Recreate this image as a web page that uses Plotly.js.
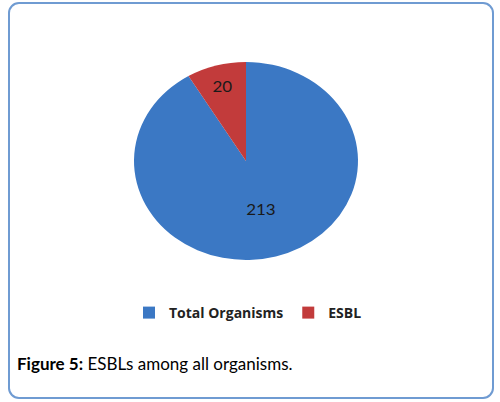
<!DOCTYPE html>
<html>
<head>
<meta charset="utf-8">
<script src="https://cdn.plot.ly/plotly-3.0.1.min.js"></script>
<style>
  html, body { margin: 0; padding: 0; background: #ffffff; }
  #wrap { position: relative; width: 500px; height: 402px; overflow: hidden; }
  #frame { position: absolute; left: 8px; top: 2px; width: 482px; height: 393px;
           border: 2px solid #6f9bd2; border-radius: 11px; box-sizing: content-box; }
  #chart { position: absolute; left: 0; top: 0; width: 500px; height: 402px; }
</style>
</head>
<body>
<div id="wrap">
  <div id="frame"></div>
  <div id="chart"></div>
</div>
<script>
const categories = ["Total Organisms", "ESBL"];
const counts = [213, 20];
const sliceColors = ["#3b78c4", "#c23b3b"];
const captionBold = "Figure 5:";
const captionText = " ESBLs among all organisms.";

const W = 500, H = 402;
// pie centre and radii in pixels (the reference pie is slightly elliptical)
const cx = 246, cy = 161, ry = 99, rx = 112;

const data = [{
  type: "pie",
  labels: categories,
  values: counts,
  text: counts.map(String),
  textinfo: "text",
  textposition: "inside",
  insidetextorientation: "horizontal",
  insidetextfont: { family: "Lato, sans-serif", size: 15, color: "#1a1a1a" },
  sort: false,
  direction: "clockwise",
  rotation: 0,
  marker: { colors: sliceColors, line: { width: 0 } },
  hoverinfo: "none",
  domain: {
    x: [(cx - ry) / W, (cx + ry) / W],
    y: [(H - cy - ry) / H, (H - cy + ry) / H]
  }
}];

const layout = {
  width: W, height: H,
  margin: { l: 0, r: 0, t: 0, b: 0 },
  paper_bgcolor: "rgba(0,0,0,0)",
  plot_bgcolor: "rgba(0,0,0,0)",
  showlegend: true,
  legend: {
    orientation: "h",
    x: 0.496, xanchor: "center",
    y: (H - 313) / H, yanchor: "middle",
    font: { family: "'Open Sans', sans-serif", size: 14, color: "#222222", weight: "bold" },
    itemwidth: 30,
    bgcolor: "rgba(0,0,0,0)"
  },
  annotations: [{
    xref: "paper", yref: "paper",
    x: 15 / W, y: (H - 363) / H,
    xanchor: "left", yanchor: "middle",
    showarrow: false,
    text: "<b>" + captionBold + "</b>" + captionText,
    font: { family: "Lato, sans-serif", size: 17, color: "#000000" }
  }]
};

Plotly.newPlot("chart", data, layout, { displayModeBar: false, staticPlot: true }).then(function (gd) {
  // stretch the pie horizontally to reproduce the elliptical shape of the reference
  const pl = gd.querySelector(".pielayer");
  if (pl) {
    pl.style.transformOrigin = cx + "px " + cy + "px";
    pl.style.transform = "scale(" + (rx / ry) + ", 1)";
  }
});
</script>
</body>
</html>
